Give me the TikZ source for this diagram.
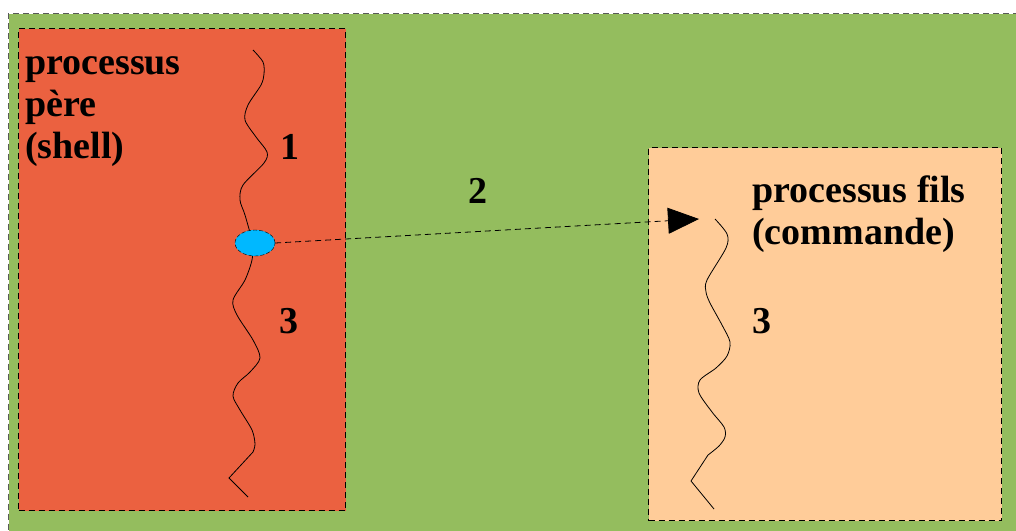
\documentclass[tikz,border=0pt]{standalone}
\usepackage{fontspec}
\setmainfont{Liberation Serif}
\usetikzlibrary{positioning, shapes.geometric, arrows.meta}

\definecolor{fond}{RGB}{148,189,94}
\definecolor{pere}{RGB}{235,97,64}
\definecolor{fils}{RGB}{255,204,153}
\definecolor{bulle}{RGB}{0,184,255}

\begin{document}
\begin{tikzpicture}[x=1pt, y=-1pt,
    boite/.style={draw, dash pattern=on 6pt off 4pt, line width=1pt, anchor=north west, inner sep=0pt},
    texte/.style={font=\bfseries\fontsize{38}{42}\selectfont, inner sep=0pt, anchor=base west, align=left},
    fil/.style={line width=0.8pt}]

    \clip (0,0) rectangle (1016,530);

    \node[boite, draw=black!65, fill=fond, minimum width=1030pt, minimum height=540pt] (cadre) at (8,13) {};
    \node[boite, fill=pere, minimum width=327pt, minimum height=482pt] (pere) at (18,28) {};
    \node[boite, fill=fils, minimum width=353pt, minimum height=373pt] (fils) at (648,147) {};

    \node[texte] (nompere) at (25,158) {processus\\père\\(shell)};
    \node[texte] (nomfils) at (752,244) {processus fils\\(commande)};
    \node[texte] (un) at (280,159) {1};
    \node[texte] (deux) at (468,203) {2};
    \node[texte] (troispere) at (279,333) {3};
    \node[texte] (troisfils) at (752,333) {3};

    % fil d'execution du pere
    \draw[fil] plot[smooth] coordinates {(253,50) (263,62) (264,74) (261,85) (248,105) (245,120) (256,137) (267,152) (264,163) (243,185) (240,200) (245,215) (253,243)};
    \draw[fil] plot[smooth] coordinates {(253,243) (252,260) (245,280) (233,300) (237,315) (253,340) (260,358) (250,372) (238,383) (233,396) (240,410) (252,430) (255,444) (253,452)} -- (229,478) -- (248,497);

    % fil d'execution du fils
    \draw[fil] plot[smooth] coordinates {(715,219) (727,234) (726,248) (707,280) (706,292) (710,303) (722,325) (730,342) (727,356) (716,368) (700,380) (699,393) (712,412) (724,427) (725,437) (719,446) (708,455)} -- (691,481) -- (714,509);

    \node[ellipse, draw, dash pattern=on 4pt off 2pt, fill=bulle, minimum width=40pt, minimum height=26pt, inner sep=0pt] (bulle) at (255,243) {};
    \coordinate (cible) at (699,219);

    \draw[dash pattern=on 6pt off 4pt, line width=0.8pt, -{Triangle[length=31pt, width=26pt]}] (bulle.east) -- (cible);

\end{tikzpicture}
\end{document}
